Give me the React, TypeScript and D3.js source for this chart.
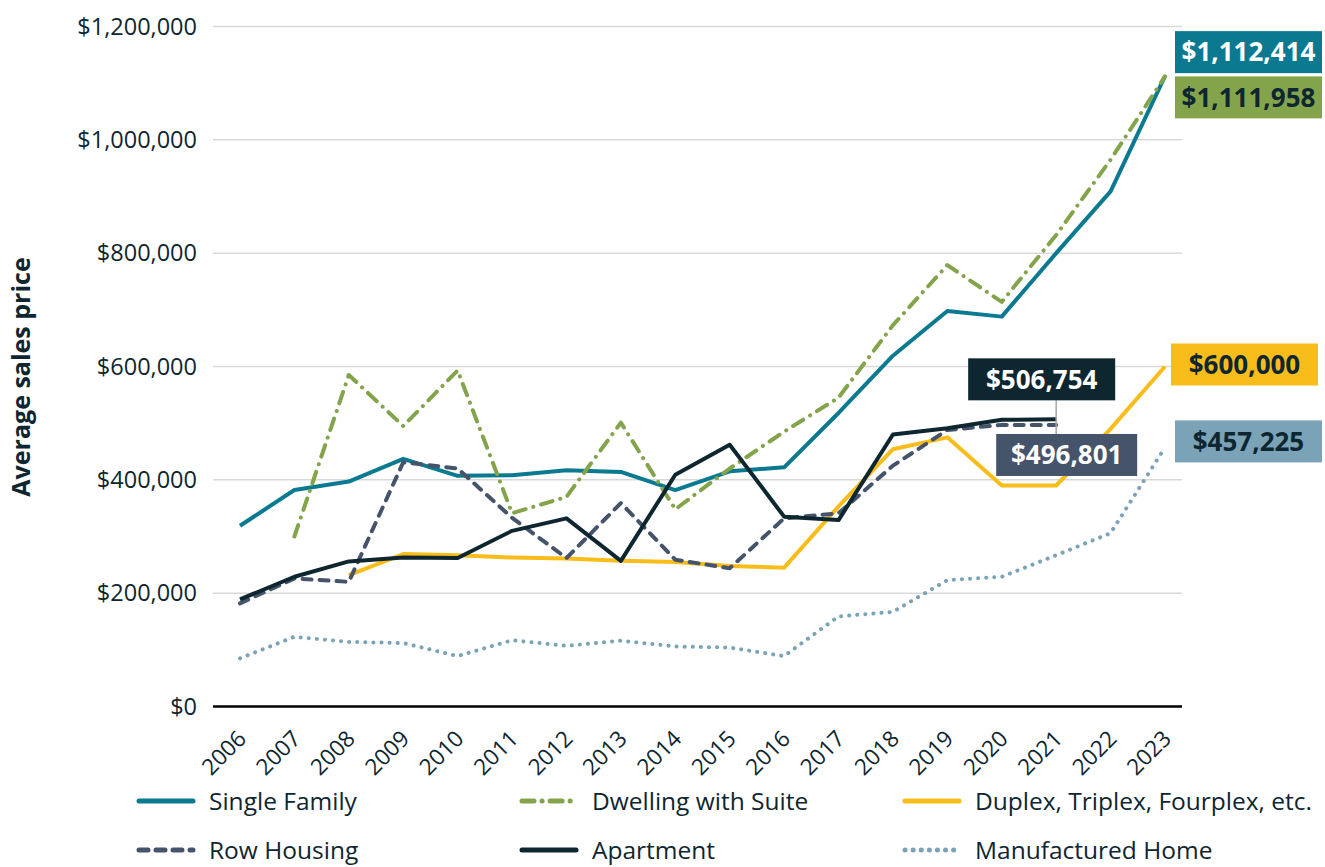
import * as d3 from 'd3'

const years = [2006, 2007, 2008, 2009, 2010, 2011, 2012, 2013, 2014, 2015, 2016, 2017, 2018, 2019, 2020, 2021, 2022, 2023]

// null = no data that year
const singleFamily = [319000, 382000, 397000, 437000, 407000, 408000, 417000, 414000, 382000, 415000, 422000, 518000, 619000, 698000, 688000, 800000, 909000, 1112414]
const dwellingSuite = [null, 300000, 585000, 495000, 593000, 341000, 370000, 501000, 348000, 420000, 485000, 545000, 673000, 779000, 714000, 832000, 965000, 1111958]
const duplex = [null, null, 232000, 269000, 267000, 263000, 261000, 257000, 255000, 248000, 245000, 353000, 454000, 475000, 390000, 390000, 490000, 600000]
const rowHousing = [182000, 226000, 220000, 431000, 420000, 333000, 262000, 359000, 259000, 244000, 332000, 341000, 425000, 488000, 497000, 496801, null, null]
const apartment = [189000, 229000, 256000, 263000, 262000, 310000, 332000, 257000, 409000, 462000, 335000, 329000, 480000, 491000, 506000, 506754, null, null]
const manufactured = [85000, 123000, 114000, 112000, 89000, 117000, 107000, 116000, 106000, 104000, 89000, 159000, 167000, 223000, 229000, 267000, 306000, 457225]

const yTicks = [0, 200000, 400000, 600000, 800000, 1000000, 1200000]

const WIDTH = 1325
const HEIGHT = 867
const MARGIN = { top: 26, right: 135, bottom: 161, left: 213 }
const FONT = '"Open Sans", "Noto Sans", sans-serif'
const INK = '#0e2630'

type Series = {
  name: string
  values: (number | null)[]
  color: string
  dash: string
}

const series: Series[] = [
  { name: 'Single Family', values: singleFamily, color: '#0b7a91', dash: '' },
  { name: 'Dwelling with Suite', values: dwellingSuite, color: '#84a44c', dash: '12 8 0.1 8' },
  { name: 'Duplex, Triplex, Fourplex, etc.', values: duplex, color: '#f8bd1a', dash: '' },
  { name: 'Row Housing', values: rowHousing, color: '#45546b', dash: '9 8' },
  { name: 'Apartment', values: apartment, color: INK, dash: '' },
  { name: 'Manufactured Home', values: manufactured, color: '#7aa3b7', dash: '0.1 8' },
]

const money = (v: number) => '$' + d3.format(',')(Math.round(v))

export default function App() {
  const boundsWidth = WIDTH - MARGIN.left - MARGIN.right
  const boundsHeight = HEIGHT - MARGIN.top - MARGIN.bottom

  const xScale = d3
    .scalePoint<number>()
    .domain(years)
    .range([27, boundsWidth - 25])
  const yScale = d3.scaleLinear().domain([0, 1200000]).range([boundsHeight + 0.5, 0.5])

  const lineGen = d3
    .line<number | null>()
    .defined((d) => d !== null)
    .x((d, i) => xScale(years[i]) as number)
    .y((d) => yScale(d as number))

  // end labels, offset from the last point of each series
  const last = (s: Series) => {
    let i = s.values.length - 1
    while (s.values[i] === null) i--
    return { x: xScale(years[i]) as number, y: yScale(s.values[i] as number), v: s.values[i] as number }
  }

  const labels = [
    { s: series[0], dx: 10, dy: -45, w: 147, fill: '#0b7a91', text: '#ffffff' },
    { s: series[1], dx: 10, dy: 0, w: 147, fill: '#84a44c', text: INK },
    { s: series[2], dx: 6, dy: -23, w: 147, fill: '#f8bd1a', text: INK },
    { s: series[5], dx: 10, dy: -27, w: 147, fill: '#7aa3b7', text: INK },
    { s: series[4], dx: -88, dy: -61, w: 147, fill: INK, text: '#ffffff' },
    { s: series[3], dx: -60, dy: 9, w: 141, fill: '#45546b', text: '#ffffff' },
  ]

  const legendCols = [137, 520, 903]
  const legendRows = [801, 850]

  return (
    <svg width={WIDTH} height={HEIGHT} style={{ position: 'absolute', left: 0, top: 0 }} fontFamily={FONT}>
      <rect width={WIDTH} height={HEIGHT} fill="#ffffff" />
      <g transform={`translate(${MARGIN.left},${MARGIN.top})`}>
        {/* grid + y ticks */}
        {yTicks.map((t) => (
          <g key={t}>
            {t > 0 && (
              <line x1={0} x2={boundsWidth - 8} y1={yScale(t)} y2={yScale(t)} stroke="#d9d9d9" strokeWidth={1.5} />
            )}
            <text x={-16} y={yScale(t)} dy="0.35em" textAnchor="end" fontSize={23.5} fill={INK}>
              {money(t)}
            </text>
          </g>
        ))}
        <line x1={0} x2={boundsWidth - 8} y1={yScale(0)} y2={yScale(0)} stroke="#000" strokeWidth={2.5} />

        {/* x ticks */}
        {years.map((yr) => (
          <text
            key={yr}
            transform={`translate(${(xScale(yr) as number) + 2},${yScale(0) + 28}) rotate(-45)`}
            textAnchor="end"
            dy="0.35em"
            fontSize={22.5}
            fill={INK}
          >
            {yr}
          </text>
        ))}

        {/* series */}
        {series.map((s) => (
          <path
            key={s.name}
            d={lineGen(s.values) ?? ''}
            fill="none"
            stroke={s.color}
            strokeWidth={4}
            strokeDasharray={s.dash || undefined}
            strokeLinecap={s.dash ? 'round' : 'butt'}
            strokeLinejoin="round"
          />
        ))}

        {/* leader line for the 2021 labels */}
        <line
          x1={last(series[4]).x}
          x2={last(series[4]).x}
          y1={last(series[4]).y - 19}
          y2={last(series[3]).y + 9}
          stroke="#a6a6a6"
          strokeWidth={1.5}
        />

        {/* value labels */}
        {labels.map((l) => {
          const p = last(l.s)
          return (
            <g key={l.s.name} transform={`translate(${p.x + l.dx},${p.y + l.dy})`}>
              <rect width={l.w} height={42} fill={l.fill} />
              <text x={l.w / 2} y={21} dy="0.36em" textAnchor="middle" fontSize={26} fontWeight={700} fill={l.text}>
                {money(p.v)}
              </text>
            </g>
          )
        })}
      </g>

      {/* y axis title */}
      <text
        transform="translate(30,377) rotate(-90)"
        textAnchor="middle"
        fontSize={25}
        fontWeight={700}
        fill={INK}
      >
        Average sales price
      </text>

      {/* legend */}
      {series.map((s, i) => {
        const x = legendCols[i % 3]
        const y = legendRows[Math.floor(i / 3)]
        return (
          <g key={s.name} transform={`translate(${x},${y})`}>
            <line
              x1={2}
              x2={56}
              y1={0}
              y2={0}
              stroke={s.color}
              strokeWidth={5}
              strokeDasharray={s.dash || undefined}
              strokeLinecap="round"
            />
            <text x={72} dy="0.35em" fontSize={24.5} fill={INK}>
              {s.name}
            </text>
          </g>
        )
      })}
    </svg>
  )
}
